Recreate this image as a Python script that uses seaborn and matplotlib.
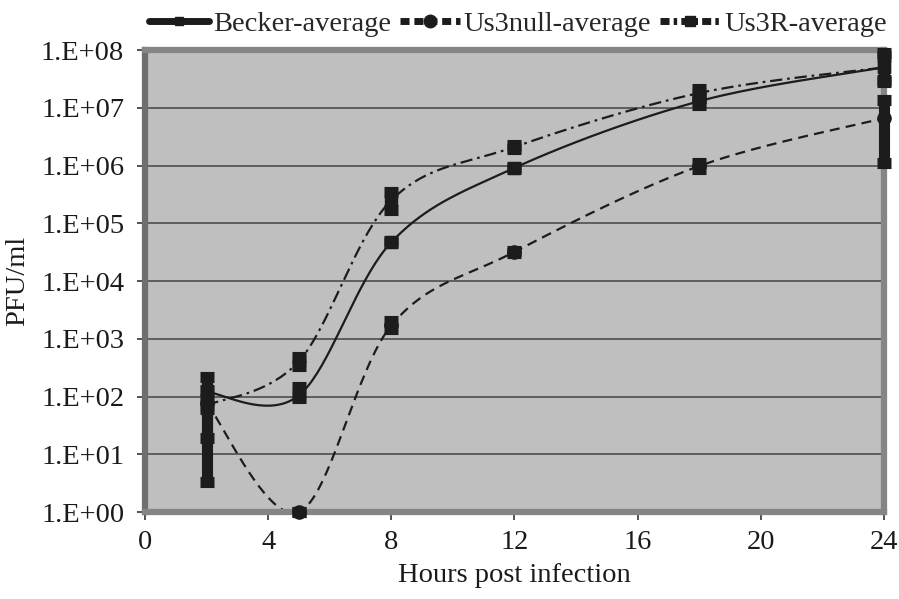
import numpy as np
import pandas as pd
import matplotlib
matplotlib.use("Agg")
import matplotlib.pyplot as plt
from matplotlib.lines import Line2D
from matplotlib.ticker import FixedLocator, FuncFormatter, NullLocator
import seaborn as sns

# ---------------- data ----------------
hours = [2, 5, 8, 12, 18, 24]

becker_avg = [1.2e2, 1.05e2, 4.7e4, 9.1e5, 1.3e7, 5.0e7]
becker_lo  = [1.9e1, 9.5e1, 4.5e4, 8.8e5, 1.1e7, 2.8e7]
becker_hi  = [2.2e2, 1.45e2, 4.9e4, 9.4e5, 1.5e7, 8.9e7]

us3null_avg = [7.7e1, 1.0e0, 1.7e3, 3.2e4, 9.8e5, 6.6e6]
us3null_lo  = [3.3e0, 1.0e0, 1.45e3, 3.1e4, 8.8e5, 1.1e6]
us3null_hi  = [1.3e2, 1.0e0, 2.0e3, 3.3e4, 1.1e6, 1.35e7]

us3r_avg = [7.0e1, 4.1e2, 2.5e5, 2.1e6, 1.8e7, 5.0e7]
us3r_lo  = [6.0e1, 3.4e2, 1.7e5, 1.9e6, 1.5e7, 3.0e7]
us3r_hi  = [9.0e1, 4.9e2, 3.5e5, 2.3e6, 2.1e7, 8.0e7]

series_names = ["Becker-average", "Us3null-average", "Us3R-average"]
x_ticks = [0, 4, 8, 12, 16, 20, 24]
y_ticks = [1e0, 1e1, 1e2, 1e3, 1e4, 1e5, 1e6, 1e7, 1e8]


def smooth(x, y, n=40):
    """Excel-style smoothed line (Catmull-Rom Bezier) in (x, log y) space."""
    P = np.column_stack([np.asarray(x, float), np.log10(np.asarray(y, float))])
    Pe = np.vstack([P[0], P, P[-1]])
    t = np.linspace(0, 1, n)[:, None]
    parts = []
    for i in range(len(P) - 1):
        p0, p1, p2, p3 = Pe[i], Pe[i + 1], Pe[i + 2], Pe[i + 3]
        c1 = p1 + (p2 - p0) / 6.0
        c2 = p2 - (p3 - p1) / 6.0
        B = (1 - t) ** 3 * p1 + 3 * (1 - t) ** 2 * t * c1 + 3 * (1 - t) * t ** 2 * c2 + t ** 3 * p2
        parts.append(B if i == 0 else B[1:])
    B = np.vstack(parts)
    return B[:, 0], 10 ** B[:, 1]


sns.set_theme(style="white")
plt.rcParams["font.family"] = ["Liberation Serif", "DejaVu Serif"]
plt.rcParams["font.size"] = 20.5

fig = plt.figure(figsize=(8.99, 5.99), dpi=100)
ax = fig.add_axes([0.1613, 0.1452, 0.8220, 0.7713])
ax.set_facecolor("#bfbfbf")

ink = "#1c1c1c"
styles = {
    "Becker-average": dict(dashes=None, marker="s"),
    "Us3null-average": dict(dashes=(4.5, 2.8), marker="o"),
    "Us3R-average": dict(dashes=(5.5, 2.2, 1.2, 2.2), marker="s"),
}
avgs = [becker_avg, us3null_avg, us3r_avg]
los = [becker_lo, us3null_lo, us3r_lo]
his = [becker_hi, us3null_hi, us3r_hi]

# horizontal grid lines
for yv in y_ticks[1:-1]:
    ax.axhline(yv, color="#4d4d4d", lw=1.2, zorder=1)

for name, avg, lo, hi in zip(series_names, avgs, los, his):
    sx, sy = smooth(hours, avg)
    df = pd.DataFrame({"h": sx, "v": sy})
    st = styles[name]
    sns.lineplot(data=df, x="h", y="v", ax=ax, color=ink, lw=1.6,
                 estimator=None, sort=False, legend=False, zorder=3)
    ln = ax.lines[-1]
    if st["dashes"] is not None:
        ln.set_dashes(st["dashes"])
    avg_a = np.array(avg); lo_a = np.array(lo); hi_a = np.array(hi)
    cont = ax.errorbar(hours, avg_a, yerr=[avg_a - lo_a, hi_a - avg_a], fmt="none",
                       ecolor=ink, elinewidth=8.0, capsize=4.8, capthick=8.0, zorder=7)
    for cap in cont.lines[1]:
        cap.set_clip_on(False)
    for bl in cont.lines[2]:
        bl.set_clip_on(False)
        bl.set_linestyle("solid")
    ax.plot(hours, avg, ls="none", marker=st["marker"], ms=9.5 if st["marker"] == "o" else 8,
            color=ink, zorder=7, clip_on=False)

ax.set_yscale("log")
ax.set_xlim(0, 24)
ax.set_ylim(1, 1e8)
ax.xaxis.set_major_locator(FixedLocator(x_ticks))
ax.yaxis.set_major_locator(FixedLocator(y_ticks))
ax.yaxis.set_minor_locator(NullLocator())
ax.yaxis.set_major_formatter(FuncFormatter(lambda v, p: "1.E+%02d" % int(round(np.log10(v)))))
ax.tick_params(axis="both", which="major", direction="out", length=6, width=1.2,
               color="#333333", labelsize=20.5, labelcolor="#1a1a1a",
               bottom=True, left=True)
ax.tick_params(axis="y", pad=9)
ax.tick_params(axis="x", pad=7)

for side, sp in ax.spines.items():
    sp.set_visible(True)
    sp.set_color("#858585")
    sp.set_linewidth(4.5)
    sp.set_zorder(6)
ax.spines["left"].set_color("#6e6e6e")

ax.set_xlabel("Hours post infection", fontsize=20.5, color="#1a1a1a", labelpad=6)
ax.set_ylabel("PFU/ml", fontsize=20.5, color="#1a1a1a", labelpad=8)

handles = [
    Line2D([], [], color=ink, lw=5, ls="-", marker="s", ms=6),
    Line2D([], [], color=ink, lw=5, dashes=(1.3, 0.7), marker="o", ms=9),
    Line2D([], [], color=ink, lw=5, dashes=(1.3, 0.6, 0.5, 0.6), marker="s", ms=7),
]
fig.legend(handles, series_names, loc="upper center", bbox_to_anchor=(0.576, 1.0),
           ncol=3, frameon=False, fontsize=20.5, handlelength=2.1, handletextpad=0.15,
           columnspacing=0.3, borderaxespad=0.0)

fig.savefig("out.png", dpi=100)
